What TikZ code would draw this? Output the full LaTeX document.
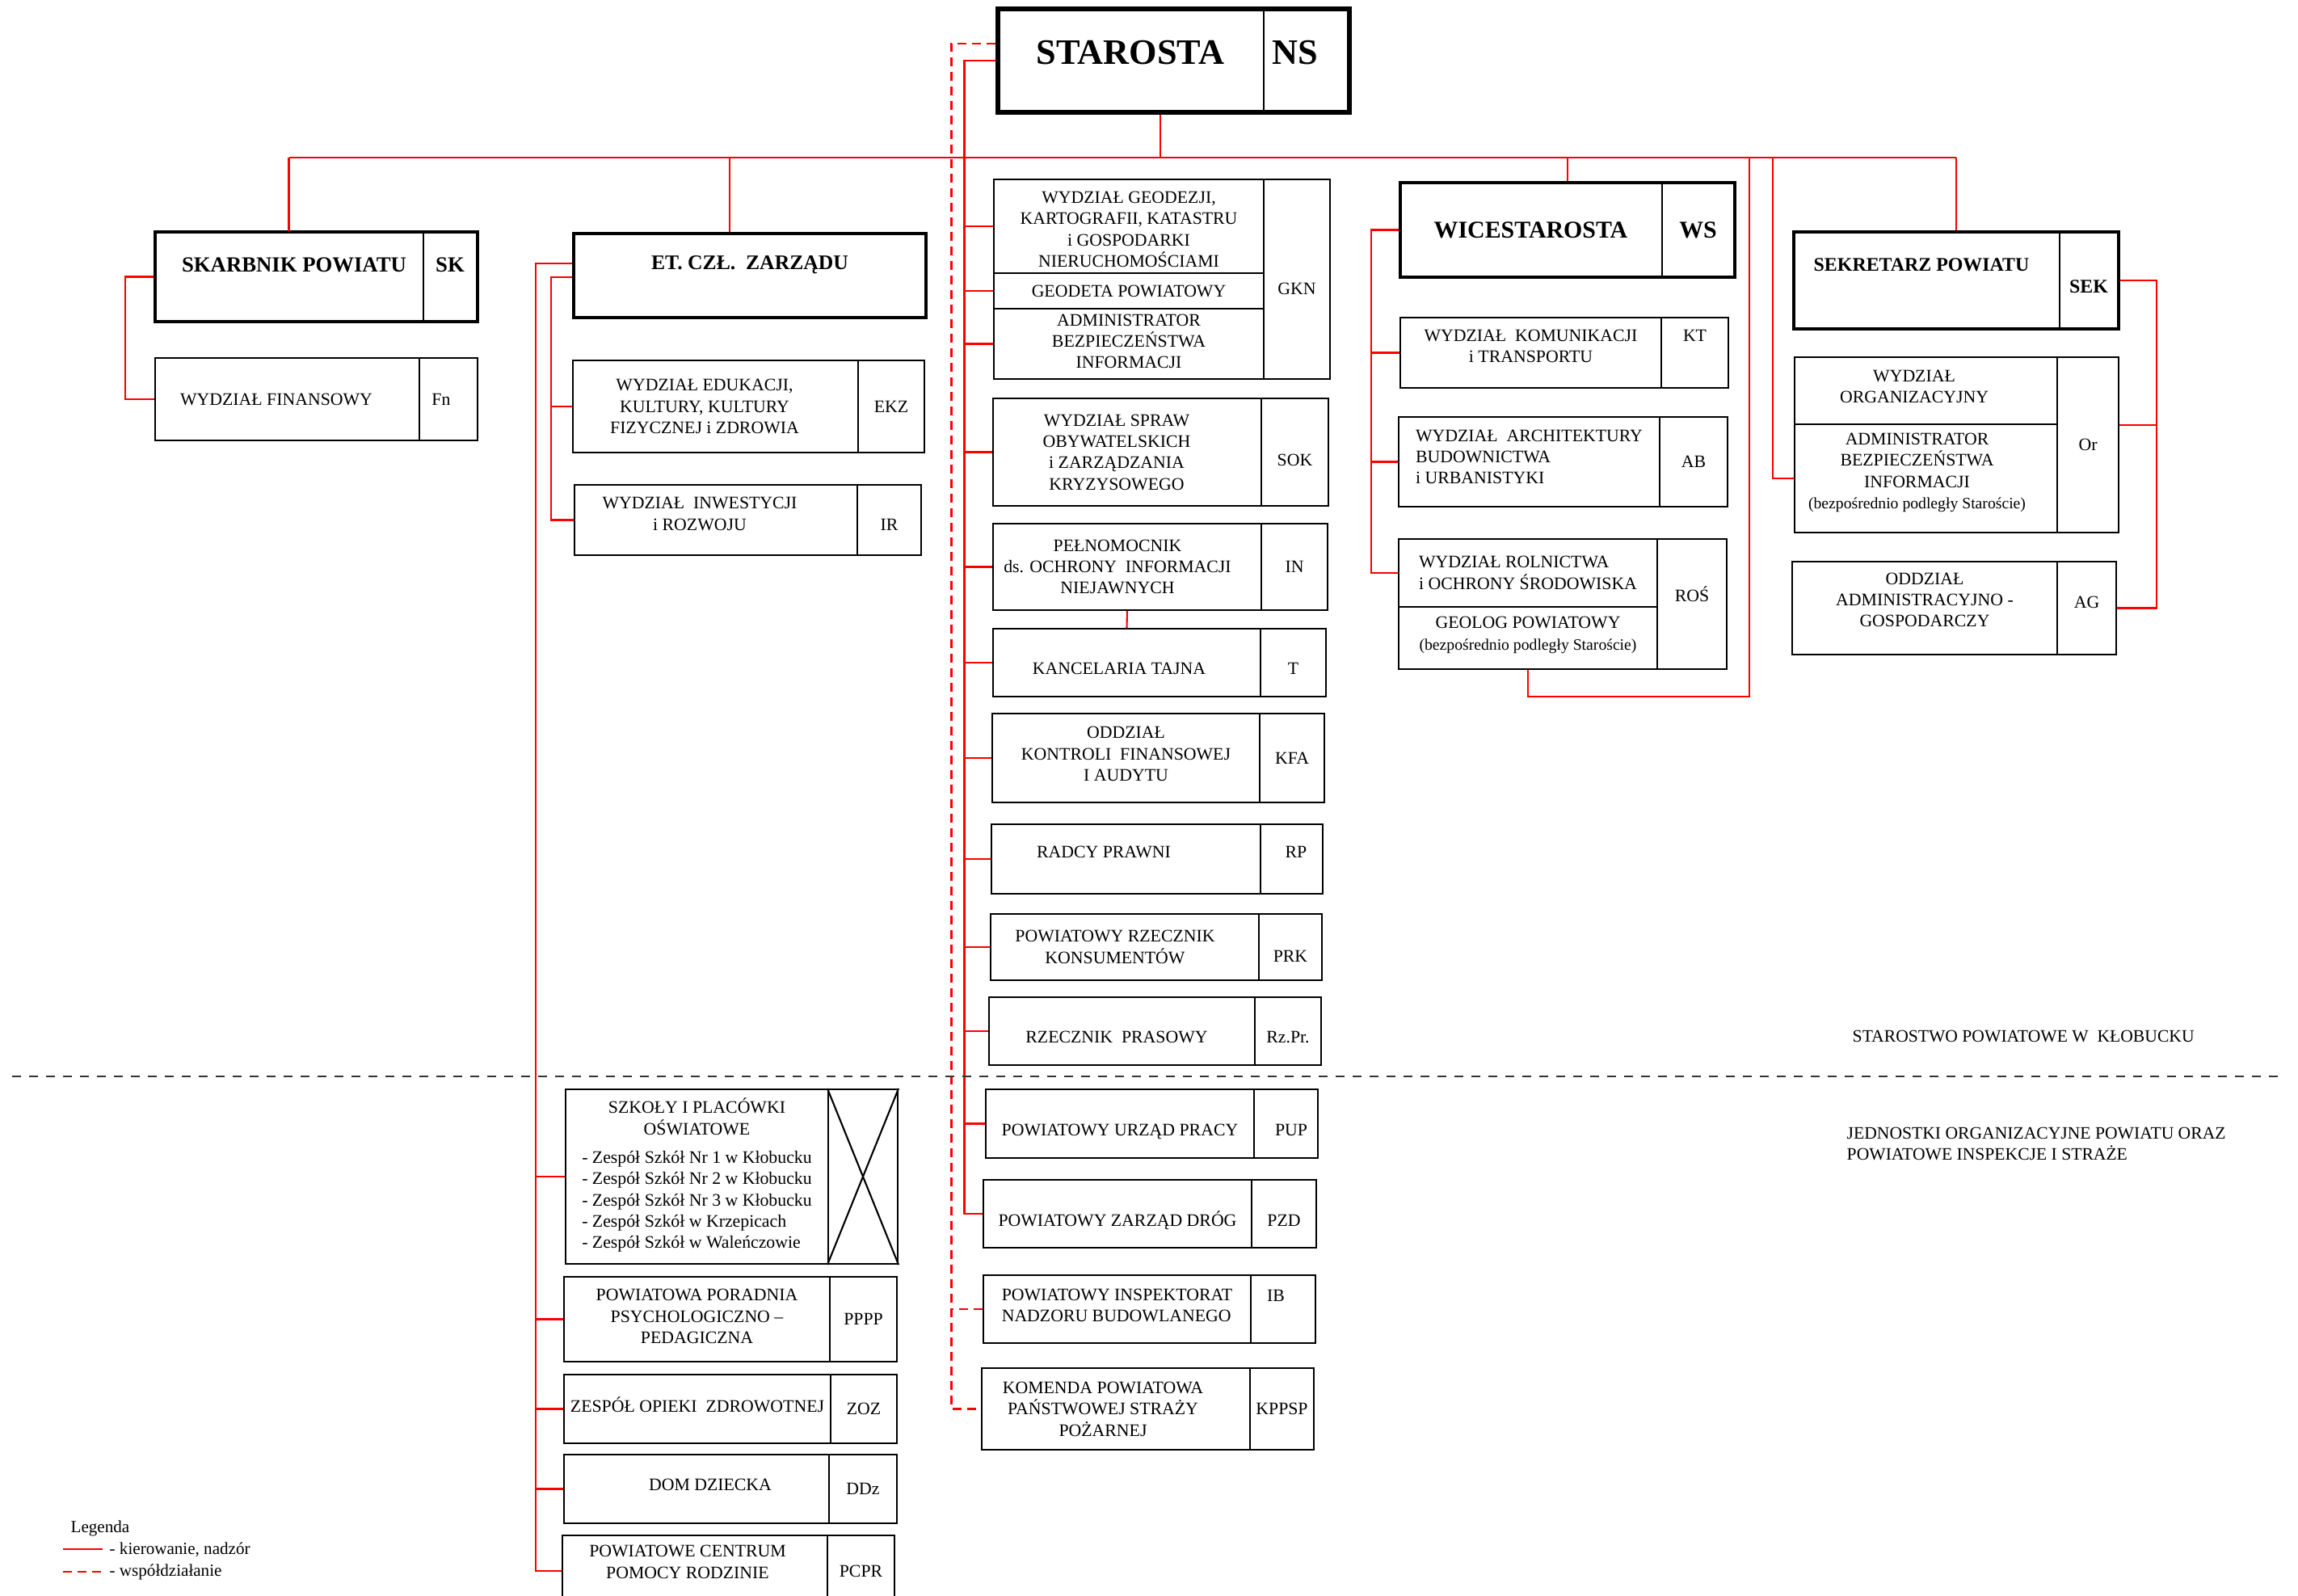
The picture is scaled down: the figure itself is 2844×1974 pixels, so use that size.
\documentclass[tikz,border=0pt]{standalone}
\usepackage{fontspec}
\setmainfont{Liberation Serif}
\usetikzlibrary{fit}
\newcommand\drobny{\fontsize{5.6}{7.5}\selectfont}

\begin{document}
\begin{tikzpicture}[x=.1mm,y=-.1mm,
    cell/.style={draw,line width=.6pt,inner sep=0pt},
    part/.style={inner sep=0pt},
    boss/.style={draw,line width=1.2pt,inner sep=0pt},
    txt/.style={inner sep=0pt,align=center,font=\fontsize{6.2}{7.5}\selectfont},
    kier/.style={red,line width=.6pt},
    wsp/.style={red,line width=.6pt,dash pattern=on 1.1mm off .7mm},
    note/.style={inner sep=0pt,font=\fontsize{6.15}{7.4}\selectfont}]
  \useasboundingbox (0,0) rectangle (2844,1974);
  \clip (0,0) rectangle (2844,1974);

  % kierownictwo
  \node[part,fit={(1235,11) (1563,139)}] (staro-n) {};
  \node[part,fit={(1563,11) (1670,139)}] (staro-k) {};
  \node[boss,line width=1.45pt,fit={(1235,11) (1670,139)}] (staro) {};
  \draw[line width=.6pt] (staro-n.north east) -- (staro-n.south east);
  \node[txt,yshift=.95mm,font=\bfseries\fontsize{12.6}{14}\selectfont] (staro-t) at (staro-n) {STAROSTA};
  \node[txt,yshift=.95mm,xshift=-1.35mm,font=\bfseries\fontsize{12.6}{14}\selectfont] (staro-kt) at (staro-k) {NS};

  \node[part,fit={(192,287) (523,398)}] (skarb-n) {};
  \node[part,fit={(523,287) (591,398)}] (skarb-k) {};
  \node[boss,fit={(192,287) (591,398)}] (skarb) {};
  \draw[line width=.6pt] (skarb-n.north east) -- (skarb-n.south east);
  \node[txt,yshift=1.45mm,xshift=.65mm,font=\bfseries\fontsize{7.6}{9}\selectfont] (skarb-t) at (skarb-n) {SKARBNIK POWIATU};
  \node[txt,yshift=1.45mm,font=\bfseries\fontsize{7.6}{9}\selectfont] (skarb-kt) at (skarb-k) {SK};

  \node[boss,fit={(710,289) (1146,393)}] (etc) {};
  \node[txt,yshift=1.3mm,font=\bfseries\fontsize{7.3}{9}\selectfont] (etc-t) at (etc) {ET. CZŁ.~ ZARZĄDU};

  \node[part,fit={(1733,226) (2056,343)}] (ws-n) {};
  \node[part,fit={(2056,226) (2147,343)}] (ws-k) {};
  \node[boss,fit={(1733,226) (2147,343)}] (ws) {};
  \draw[line width=.6pt] (ws-n.north east) -- (ws-n.south east);
  \node[txt,font=\bfseries\fontsize{8.5}{10}\selectfont] (ws-t) at (ws-n) {WICESTAROSTA};
  \node[txt,font=\bfseries\fontsize{8.5}{10}\selectfont] (ws-kt) at (ws-k) {WS};

  \node[part,fit={(2220,287) (2548,407)}] (sek-n) {};
  \node[part,fit={(2548,287) (2622,407)}] (sek-k) {};
  \node[boss,fit={(2220,287) (2622,407)}] (sek) {};
  \draw[line width=.6pt] (sek-n.north east) -- (sek-n.south east);
  \node[txt,yshift=1.9mm,xshift=-.6mm,font=\bfseries\fontsize{6.8}{8}\selectfont] (sek-t) at (sek-n) {SEKRETARZ POWIATU};
  \node[txt,yshift=-.8mm,font=\bfseries\fontsize{6.8}{8}\selectfont] (sek-kt) at (sek-k) {SEK};

  % komorki starostwa
  \node[cell,fit={(192,443) (519,545)}] (fn) {};
  \node[cell,fit={(519,443) (591,545)}] (fn-k) {};
  \node[txt,xshift=-1.35mm] (fn-t) at (fn) {WYDZIAŁ FINANSOWY};
  \node[txt,xshift=-.9mm] (fn-kt) at (fn-k) {Fn};

  \node[cell,fit={(709,446) (1062,560)}] (ekz) {};
  \node[cell,fit={(1062,446) (1144,560)}] (ekz-k) {};
  \node[txt,xshift=-1.35mm] (ekz-t) at (ekz) {WYDZIAŁ EDUKACJI,\\KULTURY, KULTURY\\FIZYCZNEJ i ZDROWIA};
  \node[txt] (ekz-kt) at (ekz-k) {EKZ};
  \node[cell,fit={(711,600) (1061,687)}] (ir) {};
  \node[cell,fit={(1061,600) (1140,687)}] (ir-k) {};
  \node[txt,yshift=.75mm,xshift=-2mm] (ir-t) at (ir) {WYDZIAŁ~ INWESTYCJI\\i ROZWOJU};
  \node[txt,yshift=-.6mm] (ir-kt) at (ir-k) {IR};

  \node[cell,fit={(1230,222) (1564,338)}] (gkn1) {};
  \node[cell,fit={(1230,338) (1564,382)}] (gkn2) {};
  \node[cell,fit={(1230,382) (1564,469)}] (gkn3) {};
  \node[cell,fit={(1564,222) (1646,469)}] (gkn-k) {};
  \node[txt,yshift=-.4mm] (gkn1-t) at (gkn1) {WYDZIAŁ GEODEZJI,\\KARTOGRAFII, KATASTRU\\i GOSPODARKI\\NIERUCHOMOŚCIAMI};
  \node[txt] (gkn2-t) at (gkn2) {GEODETA POWIATOWY};
  \node[txt,yshift=.3mm] (gkn3-t) at (gkn3) {ADMINISTRATOR\\BEZPIECZEŃSTWA\\INFORMACJI};
  \node[txt,yshift=-1.2mm] (gkn-kt) at (gkn-k) {GKN};
  \node[cell,fit={(1229,493) (1561,626)}] (sok) {};
  \node[cell,fit={(1561,493) (1644,626)}] (sok-k) {};
  \node[txt,xshift=-1.3mm] (sok-t) at (sok) {WYDZIAŁ SPRAW\\OBYWATELSKICH\\i ZARZĄDZANIA\\KRYZYSOWEGO};
  \node[txt,yshift=-1mm] (sok-kt) at (sok-k) {SOK};
  \node[cell,fit={(1229,648) (1561,755)}] (pin) {};
  \node[cell,fit={(1561,648) (1643,755)}] (pin-k) {};
  \node[txt,xshift=-1.2mm] (pin-t) at (pin) {PEŁNOMOCNIK\\ds. OCHRONY~ INFORMACJI\\NIEJAWNYCH};
  \node[txt] (pin-kt) at (pin-k) {IN};
  \node[cell,fit={(1229,778) (1560,862)}] (kanc) {};
  \node[cell,fit={(1560,778) (1641,862)}] (kanc-k) {};
  \node[txt,yshift=-.7mm,xshift=-.95mm] (kanc-t) at (kanc) {KANCELARIA TAJNA};
  \node[txt,yshift=-.7mm] (kanc-kt) at (kanc-k) {T};
  \node[cell,fit={(1228,883) (1559,993)}] (kfa) {};
  \node[cell,fit={(1559,883) (1639,993)}] (kfa-k) {};
  \node[txt,yshift=.5mm] (kfa-t) at (kfa) {ODDZIAŁ\\KONTROLI~ FINANSOWEJ\\I AUDYTU};
  \node[txt] (kfa-kt) at (kfa-k) {KFA};
  \node[cell,fit={(1227,1020) (1560,1106)}] (rp) {};
  \node[cell,fit={(1560,1020) (1637,1106)}] (rp-k) {};
  \node[txt,yshift=.9mm,xshift=-2.75mm] (rp-t) at (rp) {RADCY PRAWNI};
  \node[txt,yshift=.9mm,xshift=.55mm] (rp-kt) at (rp-k) {RP};
  \node[cell,fit={(1226,1131) (1558,1213)}] (prk) {};
  \node[cell,fit={(1558,1131) (1636,1213)}] (prk-k) {};
  \node[txt,xshift=-1.2mm] (prk-t) at (prk) {POWIATOWY RZECZNIK\\KONSUMENTÓW};
  \node[txt,yshift=-1.1mm] (prk-kt) at (prk-k) {PRK};
  \node[cell,fit={(1224,1234) (1553,1318)}] (rzpr) {};
  \node[cell,fit={(1553,1234) (1635,1318)}] (rzpr-k) {};
  \node[txt,yshift=-.7mm,xshift=-.65mm] (rzpr-t) at (rzpr) {RZECZNIK~ PRASOWY};
  \node[txt,yshift=-.7mm] (rzpr-kt) at (rzpr-k) {Rz.Pr.};

  \node[cell,fit={(1733,393) (2056,480)}] (kt) {};
  \node[cell,fit={(2056,393) (2139,480)}] (kt-k) {};
  \node[txt,yshift=.8mm] (kt-t) at (kt) {WYDZIAŁ~ KOMUNIKACJI\\i TRANSPORTU};
  \node[txt,yshift=2.1mm] (kt-kt) at (kt-k) {KT};
  \node[cell,fit={(1731,516) (2054,627)}] (ab) {};
  \node[cell,fit={(2054,516) (2138,627)}] (ab-k) {};
  \node[txt,align=left,yshift=.6mm] (ab-t) at (ab) {WYDZIAŁ~ ARCHITEKTURY\\BUDOWNICTWA\\i URBANISTYKI};
  \node[txt] (ab-kt) at (ab-k) {AB};
  \node[cell,fit={(1731,667) (2051,751)}] (ros1) {};
  \node[cell,fit={(1731,751) (2051,828)}] (ros2) {};
  \node[cell,fit={(2051,667) (2137,828)}] (ros-k) {};
  \node[txt,align=left] (ros1-t) at (ros1) {WYDZIAŁ ROLNICTWA\\i OCHRONY ŚRODOWISKA};
  \node[txt,yshift=.35mm] (ros2-t) at (ros2) {GEOLOG POWIATOWY\\{\drobny (bezpośrednio podległy Staroście)}};
  \node[txt,yshift=1.25mm] (ros-kt) at (ros-k) {ROŚ};

  \node[cell,fit={(2221,442) (2546,525)}] (or1) {};
  \node[cell,fit={(2221,525) (2546,659)}] (or2) {};
  \node[cell,fit={(2546,442) (2622,659)}] (or-k) {};
  \node[txt,yshift=.5mm,xshift=-1.45mm] (or1-t) at (or1) {WYDZIAŁ\\ORGANIZACYJNY};
  \node[txt,yshift=.7mm,xshift=-1.1mm] (or2-t) at (or2) {ADMINISTRATOR\\BEZPIECZEŃSTWA\\INFORMACJI\\{\drobny (bezpośrednio podległy Staroście)}};
  \node[txt] (or-kt) at (or-k) {Or};
  \node[cell,fit={(2218,695) (2546,810)}] (ag) {};
  \node[cell,fit={(2546,695) (2619,810)}] (ag-k) {};
  \node[txt,yshift=1mm] (ag-t) at (ag) {ODDZIAŁ\\ADMINISTRACYJNO -\\GOSPODARCZY};
  \node[txt,yshift=.75mm] (ag-kt) at (ag-k) {AG};

  % jednostki powiatu
  \node[cell,fit={(700,1348) (1025,1564)}] (szk) {};
  \node[cell,fit={(1025,1348) (1111,1564)}] (szk-k) {};
  \draw[line width=.6pt] (szk-k.north west) -- (szk-k.south east) (szk-k.north east) -- (szk-k.south west);
  \node[txt] (szk-t) at (szk) {SZKOŁY I PLACÓWKI\\OŚWIATOWE\\[2.5pt]
    \begin{tabular}[t]{@{}l@{}}- Zespół Szkół Nr 1 w Kłobucku\\- Zespół Szkół Nr 2 w Kłobucku\\- Zespół Szkół Nr 3 w Kłobucku\\- Zespół Szkół w Krzepicach\\- Zespół Szkół w Waleńczowie\end{tabular}};
  \node[cell,fit={(698,1580) (1027,1685)}] (pppp) {};
  \node[cell,fit={(1027,1580) (1110,1685)}] (pppp-k) {};
  \node[txt,yshift=.35mm] (pppp-t) at (pppp) {POWIATOWA PORADNIA\\PSYCHOLOGICZNO –\\PEDAGICZNA};
  \node[txt] (pppp-kt) at (pppp-k) {PPPP};
  \node[cell,fit={(698,1701) (1028,1786)}] (zoz) {};
  \node[cell,fit={(1028,1701) (1110,1786)}] (zoz-k) {};
  \node[txt,yshift=.5mm] (zoz-t) at (zoz) {ZESPÓŁ OPIEKI~ ZDROWOTNEJ};
  \node[txt] (zoz-kt) at (zoz-k) {ZOZ};
  \node[cell,fit={(698,1800) (1026,1885)}] (ddz) {};
  \node[cell,fit={(1026,1800) (1110,1885)}] (ddz-k) {};
  \node[txt,yshift=.5mm,xshift=1.7mm] (ddz-t) at (ddz) {DOM DZIECKA};
  \node[txt] (ddz-kt) at (ddz-k) {DDz};
  \node[cell,fit={(696,1900) (1024,1988)}] (pcpr) {};
  \node[cell,fit={(1024,1900) (1107,1988)}] (pcpr-k) {};
  \node[txt,yshift=1.1mm,xshift=-.9mm] (pcpr-t) at (pcpr) {POWIATOWE CENTRUM\\POMOCY RODZINIE};
  \node[txt] (pcpr-kt) at (pcpr-k) {PCPR};

  \node[cell,fit={(1220,1348) (1552,1433)}] (pup) {};
  \node[cell,fit={(1552,1348) (1631,1433)}] (pup-k) {};
  \node[txt,yshift=-.95mm] (pup-t) at (pup) {POWIATOWY URZĄD PRACY};
  \node[txt,yshift=-.75mm,xshift=.65mm] (pup-kt) at (pup-k) {PUP};
  \node[cell,fit={(1217,1460) (1549,1544)}] (pzd) {};
  \node[cell,fit={(1549,1460) (1629,1544)}] (pzd-k) {};
  \node[txt,yshift=-.8mm] (pzd-t) at (pzd) {POWIATOWY ZARZĄD DRÓG};
  \node[txt,yshift=-.8mm] (pzd-kt) at (pzd-k) {PZD};
  \node[cell,fit={(1217,1578) (1548,1662)}] (ib) {};
  \node[cell,fit={(1548,1578) (1628,1662)}] (ib-k) {};
  \node[txt,align=left,yshift=.45mm] (ib-t) at (ib) {POWIATOWY INSPEKTORAT\\NADZORU BUDOWLANEGO};
  \node[txt,yshift=1.7mm,xshift=-.9mm] (ib-kt) at (ib-k) {IB};
  \node[cell,fit={(1215,1693) (1547,1794)}] (kppsp) {};
  \node[cell,fit={(1547,1693) (1626,1794)}] (kppsp-k) {};
  \node[txt,xshift=-1.6mm] (kppsp-t) at (kppsp) {KOMENDA POWIATOWA\\PAŃSTWOWEJ STRAŻY\\POŻARNEJ};
  \node[txt] (kppsp-kt) at (kppsp-k) {KPPSP};

  % polaczenia
  \coordinate (bus) at (1436,195);
  \draw[kier] (staro.south -| bus) -- (bus);
  \draw[kier] (skarb-n.north |- bus) -- (sek.north |- bus);
  \foreach \b in {skarb-n,ws,sek}
    \draw[kier] (\b.north) -- (\b.north |- bus);
  \path ([xshift=-2.5mm]etc.north) coordinate (etc-up);
  \draw[kier] (etc-up) -- (etc-up |- bus);
  \coordinate (abi) at (2194,195);
  \draw[kier] (abi) |- (or2.west);
  \coordinate (geo) at (2165,862);
  \draw[kier] (ros2.south) |- (geo) -- (geo |- bus);

  \draw[kier] (skarb.west) -- ++(-35,0) |- (fn.west);
  \draw[kier] ([yshift=1.5mm]etc.west) -- ++(-45,0) coordinate (ez) |- (pcpr.west);
  \foreach \b in {szk,pppp,zoz,ddz}
    \draw[kier] (\b.west) -- (\b.west -| ez);
  \draw[kier] ([yshift=-.2mm]etc.west) -- ++(-26,0) coordinate (ei) |- (ir.west);
  \draw[kier] (ekz.west) -- (ekz.west -| ei);

  \draw[kier] (staro.west) -- ++(-39,0) coordinate (st) |- (pzd.west);
  \foreach \b in {gkn1,gkn2,gkn3,sok,pin,kanc,kfa,rp,prk,rzpr,pup}
    \draw[kier] (\b.west) -- (\b.west -| st);
  \draw[kier] (pin.south) -- (kanc.north);
  \draw[wsp] ([yshift=2.1mm]staro.west) -- ++(-55,0) coordinate (sd) |- (kppsp.west);
  \draw[wsp] (ib.west) -- (ib.west -| sd);

  \draw[kier] (ws.west) -- ++(-34,0) coordinate (wl) |- (ros1.west);
  \foreach \b in {kt,ab}
    \draw[kier] (\b.west) -- (\b.west -| wl);

  \draw[kier] (sek.east) -- ++(45,0) coordinate (sr) |- (ag-k.east);
  \draw[kier] (or-k.east |- or1.south) -- (sr |- or1.south);

  % podzial i opisy
  \draw[black!80,line width=.55pt,dash pattern=on 1.1mm off 1mm] (15,1332) -- (2823,1332);
  \node[note,anchor=base west] (urzad) at (2292,1289) {STAROSTWO POWIATOWE W~ KŁOBUCKU};
  \node[note,anchor=north west,align=left] (jedn) at (2285,1394) {JEDNOSTKI ORGANIZACYJNE POWIATU ORAZ\\POWIATOWE INSPEKCJE I STRAŻE};

  \node[note,anchor=base west,font=\fontsize{6}{7.4}\selectfont] (leg) at (87,1896) {Legenda};
  \node[note,anchor=base west,font=\fontsize{6}{7.4}\selectfont] (leg-k) at (135,1923) {- kierowanie, nadzór};
  \node[note,anchor=base west,font=\fontsize{6}{7.4}\selectfont] (leg-w) at (135,1950) {- współdziałanie};
  \draw[kier] (leg-k.west) ++(-57,0) -- ++(49,0);
  \draw[wsp] (leg-w.west) ++(-57,0) -- ++(49,0);
\end{tikzpicture}
\end{document}
